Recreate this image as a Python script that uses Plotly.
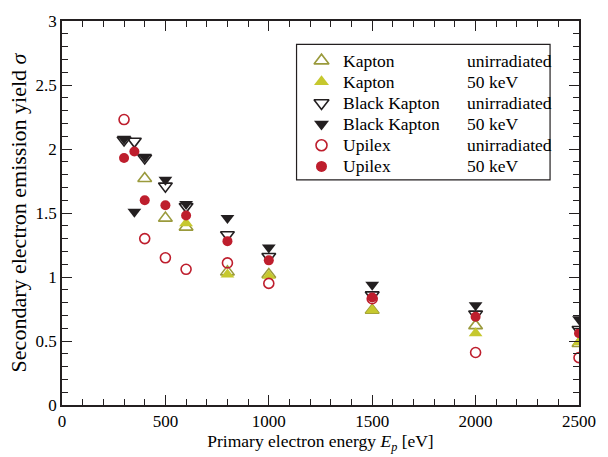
import plotly.graph_objects as go

kapton_x = [400, 500, 600, 800, 1000, 1500, 2000, 2500]
kapton_unirr = [1.77, 1.46, 1.39, 1.04, 1.02, 0.74, 0.62, 0.48]
kapton_50 = [None, None, 1.42, 1.02, 1.01, 0.74, 0.56, 0.49]

black_x = [300, 350, 400, 500, 600, 800, 1000, 1500, 2000, 2500]
black_unirr = [2.07, 2.06, 1.93, 1.71, 1.55, 1.33, 1.16, 0.86, 0.71, 0.59]
black_50 = [2.08, 1.51, 1.94, 1.76, 1.57, 1.46, 1.23, 0.94, 0.78, 0.67]

upilex_x = [300, 350, 400, 500, 600, 800, 1000, 1500, 2000, 2500]
upilex_unirr = [2.23, None, 1.30, 1.15, 1.06, 1.11, 0.95, 0.83, 0.41, 0.37]
upilex_50 = [1.93, 1.98, 1.60, 1.56, 1.48, 1.28, 1.13, 0.84, 0.69, 0.56]

names = ["Kapton", "Kapton", "Black Kapton", "Black Kapton", "Upilex", "Upilex"]
conditions = ["unirradiated", "50 keV", "unirradiated", "50 keV", "unirradiated", "50 keV"]

olive = "#9a9a3c"
yellow = "#c6c82e"
black = "#231f20"
red = "#be1e2d"

symbols = ["triangle-up-open", "triangle-up", "triangle-down-open",
           "triangle-down", "circle-open", "circle"]
colors = [olive, yellow, black, black, red, red]
sizes = [12, 12, 12, 12, 10, 10]
xs_all = [kapton_x, kapton_x, black_x, black_x, upilex_x, upilex_x]
ys_all = [kapton_unirr, kapton_50, black_unirr, black_50, upilex_unirr, upilex_50]

font = "Liberation Serif"

fig = go.Figure()
for i in range(6):
    sym = symbols[i]
    fig.add_trace(go.Scatter(
        x=xs_all[i], y=ys_all[i], mode="markers", name=names[i] + " " + conditions[i],
        showlegend=False,
        marker=dict(symbol=sym, color=colors[i], size=sizes[i],
                    line=dict(color=colors[i], width=1.6 if "open" in sym else 0)),
    ))

# ---- custom legend (box in paper coordinates, keys on a hidden 0..1 overlay axis)
PX_L, PX_R, PX_T, PX_B = 62, 580, 12, 406
W, H = PX_R - PX_L, PX_B - PX_T

def px(xp):
    return (xp - PX_L) / W

def py(yp):
    return (PX_B - yp) / H

row_y = [52.7 + i * 21.7 for i in range(6)]

fig.add_shape(type="rect", xref="paper", yref="paper",
              x0=px(297), x1=px(551), y0=py(175), y1=py(36),
              line=dict(color=black, width=1.2), fillcolor="white", layer="below")

for i in range(6):
    sym = symbols[i]
    fig.add_trace(go.Scatter(
        x=[px(322)], y=[py(row_y[i])], xaxis="x2", yaxis="y2",
        mode="markers", showlegend=False, hoverinfo="skip",
        marker=dict(symbol=sym, color=colors[i], size=sizes[i] + 1,
                    line=dict(color=colors[i], width=1.6 if "open" in sym else 0)),
    ))
    fig.add_annotation(x=px(342), y=py(row_y[i]), xref="paper", yref="paper",
                       text=names[i], showarrow=False, xanchor="left", yanchor="middle",
                       font=dict(family=font, size=17.5, color="black"))
    fig.add_annotation(x=px(466), y=py(row_y[i]), xref="paper", yref="paper",
                       text=conditions[i], showarrow=False, xanchor="left", yanchor="middle",
                       font=dict(family=font, size=17.5, color="black"))

axis_common = dict(
    showline=True, linecolor=black, linewidth=1.5, mirror="allticks",
    ticks="inside", ticklen=10, tickwidth=1.2, tickcolor=black,
    showgrid=False, zeroline=False,
    tickfont=dict(family=font, size=17, color="black"),
)

fig.update_layout(
    width=608, height=457,
    margin=dict(l=PX_L, r=608 - PX_R, t=PX_T, b=457 - PX_B),
    paper_bgcolor="white", plot_bgcolor="white",
    font=dict(family=font, size=17, color="black"),
    showlegend=False,
    xaxis=dict(
        range=[0, 2500], dtick=500, tick0=0,
        minor=dict(ticks="inside", ticklen=6, dtick=100, tickcolor=black, tickwidth=1),
        title=dict(text="Primary electron energy <i>E</i><sub><i>p</i></sub> [eV]",
                   font=dict(family=font, size=17.5), standoff=2),
        **axis_common,
    ),
    yaxis=dict(
        range=[0, 3], dtick=0.5, tick0=0,
        minor=dict(ticks="inside", ticklen=6, dtick=0.1, tickcolor=black, tickwidth=1),
        title=dict(text="Secondary electron emission yield <i>σ</i>",
                   font=dict(family=font, size=22), standoff=3),
        **axis_common,
    ),
    xaxis2=dict(overlaying="x", range=[0, 1], visible=False, fixedrange=True),
    yaxis2=dict(overlaying="y", range=[0, 1], visible=False, fixedrange=True),
)

fig.write_html("out.html")
